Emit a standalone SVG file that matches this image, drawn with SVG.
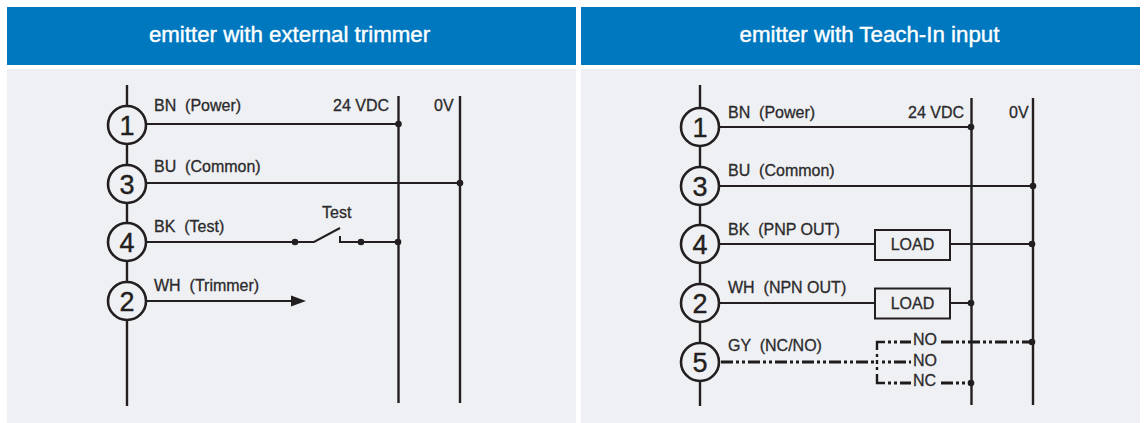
<svg xmlns="http://www.w3.org/2000/svg" width="1144" height="423" viewBox="0 0 1144 423">
<style>
.hd{fill:#0078bf}.bd{fill:#eff0f3}
.ht{font:22.300px "Liberation Sans",Arial,sans-serif;fill:#fff;text-anchor:middle;stroke:#fff;stroke-width:.4}
.l{font:16px "Liberation Sans",Arial,sans-serif;fill:#2b2a2c;stroke:#2b2a2c;stroke-width:.3;white-space:pre}
.n{font:27px "Liberation Sans",Arial,sans-serif;fill:#231f20;text-anchor:middle;stroke:#231f20;stroke-width:.4}
.w{stroke:#231f20;stroke-width:2;fill:none}
.t{stroke:#231f20;stroke-width:2.400;fill:none}
.d{stroke:#1c1a1b;stroke-width:2.800;fill:none;stroke-dasharray:12 3 3 3 3 3}
.e{stroke:#1c1a1b;stroke-width:2.800;fill:none;stroke-dasharray:3 3 3 3 12 3}
.s{stroke:#1c1a1b;stroke-width:2.400;fill:none}
.c{fill:#eff0f3;stroke:#231f20;stroke-width:2.600}
.p{fill:#231f20}
.b{fill:none;stroke:#231f20;stroke-width:2}
</style>
<rect width="1144" height="423" fill="#fff"/>
<g id="panel-left"><rect class="hd" x="7" y="7" width="569" height="58"/><rect class="bd" x="7" y="69" width="569" height="354"/><text class="ht" x="289.500" y="42">emitter with external trimmer</text></g>
<g id="panel-right"><rect class="hd" x="581" y="7" width="559" height="58"/><rect class="bd" x="581" y="69" width="559" height="354"/><text class="ht" x="869.500" y="42">emitter with Teach-In input</text></g>
<g id="connectors">
<path class="t" d="M127 85V406M398.500 96V403M460 96V403"/>
<path class="w" d="M146 124H398M146 183H460M146 242H295M295 242H314L340 228M340 236V242H398M146 301H295"/>
<path class="p" d="M291 295.500L306 301L291 306.500Z"/>
<g class="p"><circle cx="398.500" cy="124" r="3.300"/><circle cx="460" cy="183" r="3.300"/><circle cx="295" cy="242" r="3.300"/><circle cx="361" cy="242" r="3.300"/><circle cx="398" cy="242" r="3.300"/></g>
<path class="t" d="M700 85V406M971.500 98V405M1033 98V405"/>
<path class="w" d="M719 127H971M719 186H1033M719 244H875M950 244H1033M719 303H875M950 303H971"/>
<g class="p"><circle cx="971" cy="127" r="3.300"/><circle cx="1033" cy="186" r="3.300"/><circle cx="1032" cy="244" r="3.300"/><circle cx="971" cy="303" r="3.300"/><circle cx="1032" cy="342" r="3.300"/><circle cx="971" cy="383" r="3.300"/></g>
<path class="d" d="M721 362H877M941 342H1032M941 383H971"/>
<path class="s" d="M885 342H877V350M877 354V357M877 360V364M877 367V370M877 374V383H885"/>
<path class="e" d="M888 342H911M882 362H911M888 383H911"/>
</g>
<g id="node-l1"><circle class="c" cx="127" cy="125" r="19"/><text class="n" x="127" y="134.500">1</text><text class="l" x="154" y="111">BN  (Power)</text><text class="l" x="333" y="111">24 VDC</text><text class="l" x="434" y="111">0V</text></g>
<g id="node-l3"><circle class="c" cx="127" cy="184" r="19"/><text class="n" x="127" y="193.500">3</text><text class="l" x="154" y="172">BU  (Common)</text></g>
<g id="node-l4"><circle class="c" cx="127" cy="242" r="19"/><text class="n" x="127" y="251.500">4</text><text class="l" x="154" y="232">BK  (Test)</text><text class="l" x="322" y="218">Test</text></g>
<g id="node-l2"><circle class="c" cx="127" cy="301" r="19"/><text class="n" x="127" y="310.500">2</text><text class="l" x="154" y="291">WH  (Trimmer)</text></g>
<g id="node-r1"><circle class="c" cx="700" cy="127" r="19"/><text class="n" x="700" y="136.500">1</text><text class="l" x="728" y="118">BN  (Power)</text><text class="l" x="908" y="118">24 VDC</text><text class="l" x="1009" y="118">0V</text></g>
<g id="node-r3"><circle class="c" cx="700" cy="186" r="19"/><text class="n" x="700" y="195.500">3</text><text class="l" x="728" y="176">BU  (Common)</text></g>
<g id="node-r4"><circle class="c" cx="700" cy="244" r="19"/><text class="n" x="700" y="253.500">4</text><text class="l" x="728" y="235">BK  (PNP OUT)</text></g>
<g id="node-r2"><circle class="c" cx="700" cy="303" r="19"/><text class="n" x="700" y="312.500">2</text><text class="l" x="728" y="293">WH  (NPN OUT)</text></g>
<g id="node-r5"><circle class="c" cx="700" cy="362" r="19"/><text class="n" x="700" y="371.500">5</text><text class="l" x="728" y="351">GY  (NC/NO)</text></g>
<g id="load-1"><rect class="b" x="875" y="230" width="75" height="30"/><text class="l" x="912.500" y="250" text-anchor="middle">LOAD</text></g>
<g id="load-2"><rect class="b" x="875" y="288.500" width="75" height="30"/><text class="l" x="912.500" y="309" text-anchor="middle">LOAD</text></g>
<g id="switch-labels"><text class="l" x="913" y="344.500">NO</text><text class="l" x="913" y="365.500">NO</text><text class="l" x="913" y="386">NC</text></g>
</svg>
